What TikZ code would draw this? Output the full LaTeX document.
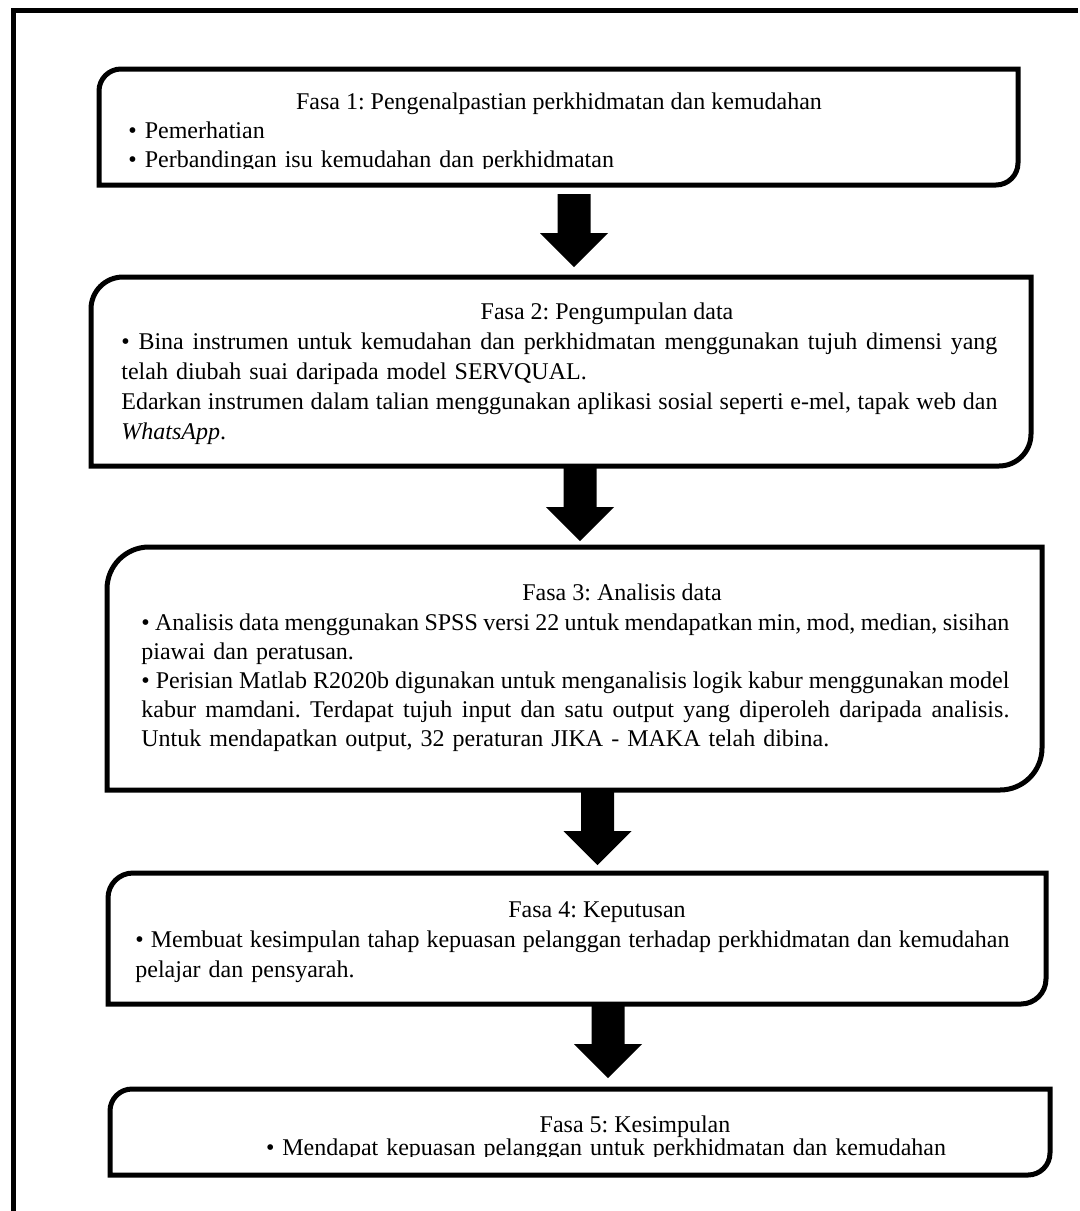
\documentclass[tikz,border=0pt]{standalone}
\usepackage{fontspec}
\setmainfont{Liberation Serif}
\usetikzlibrary{calc,fit}
\frenchspacing

\tikzset{
  boxline/.style={line width=2.5pt, line join=miter},
  framebox/.style={inner sep=0pt, outer sep=0pt, draw=none},
  heading/.style={anchor=base, inner sep=0pt, font=\fontsize{12pt}{15pt}\selectfont},
  body/.style={anchor=base west, inner sep=0pt, align=left, text width=450pt, font=\fontsize{12pt}{15pt}\selectfont},
  blockarrow/.style={fill=black, draw=none},
}

% justified line of given width
\newcommand\jline[2]{{\spaceskip=0.25em plus 0.6em minus 0.1em\makebox[#1][s]{#2}}}

% name, left, top, right, bottom, radius (px units)
\newcommand\diagbox[6]{%
  \node[framebox, fit={(#2,#3) (#4,#5)}] (#1) {};
  \draw[boxline] (#2,#3+#6) .. controls (#2,#3+0.4477*#6) and (#2+0.4477*#6,#3) .. (#2+#6,#3)
    -- (#4,#3) -- (#4,#5-#6) .. controls (#4,#5-0.4477*#6) and (#4-0.4477*#6,#5) .. (#4-#6,#5)
    -- (#2,#5) -- cycle;
}
% from, to, x-coordinate name, top gap, tip gap
\newcommand\blkarrow[5]{%
  \fill[blockarrow]
    ($(#1.south -| #3)+(-16.5,#4)$) -- ($(#1.south -| #3)+(16.5,#4)$)
    -- ($(#2.north -| #3)+(16.5,-#5-34)$) -- ($(#2.north -| #3)+(34,-#5-34)$)
    -- ($(#2.north -| #3)+(0,-#5)$)
    -- ($(#2.north -| #3)+(-34,-#5-34)$) -- ($(#2.north -| #3)+(-16.5,-#5-34)$) -- cycle;
}

\begin{document}
\begin{tikzpicture}[x=0.5pt,y=-0.5pt]
\useasboundingbox[fill=white] (0,0) rectangle (1080,1211);

% outer frame (top and left sides only)
\draw[line width=2.5pt] (13,1211) -- (13,10) -- (1078,10);

% boxes
\diagbox{b1}{99}{69}{1018}{185}{22}
\diagbox{b2}{91}{277}{1031}{466}{32}
\diagbox{b3}{107}{547}{1042}{790}{42}
\diagbox{b4}{108}{873}{1046}{1004}{25}
\diagbox{b5}{110}{1089}{1050}{1175}{22}

% arrow axes
\coordinate (ax1) at (574,0);
\coordinate (ax2) at (580,0);
\coordinate (ax3) at (597.5,0);
\coordinate (ax4) at (608,0);

\blkarrow{b1}{b2}{ax1}{9}{10}
\blkarrow{b2}{b3}{ax2}{0}{6}
\blkarrow{b3}{b4}{ax3}{0}{8}
\blkarrow{b4}{b5}{ax4}{0}{11}

% box 1 text
\node[heading] (h1) at (559,109) {Fasa 1: Pengenalpastian perkhidmatan dan kemudahan};
\begin{scope}
  \clip (101,71) rectangle (1016,168);
  \node[body, font=\fontsize{12pt}{14.5pt}\selectfont] (t1) at (128,138)
    {• Pemerhatian\\• Perbandingan isu kemudahan dan perkhidmatan};
\end{scope}

% box 2 text
\node[heading] (h2) at (607,319) {Fasa 2: Pengumpulan data};
\node[body] (t2) at (121,349)
  {\jline{438pt}{• Bina instrumen untuk kemudahan dan perkhidmatan menggunakan tujuh dimensi yang}\\
   telah diubah suai daripada model SERVQUAL.\\
   \jline{438pt}{Edarkan instrumen dalam talian menggunakan aplikasi sosial seperti e-mel, tapak web dan}\\
   \textit{WhatsApp}.};

% box 3 text
\node[heading] (h3) at (622,600) {Fasa 3: Analisis data};
\node[body, font=\fontsize{12pt}{14.6pt}\selectfont] (t3) at (141,630)
  {\jline{434pt}{• Analisis data menggunakan SPSS versi 22 untuk mendapatkan min, mod, median, sisihan}\\
   piawai dan peratusan.\\
   \jline{434pt}{• Perisian Matlab R2020b digunakan untuk menganalisis logik kabur menggunakan model}\\
   \jline{434pt}{kabur mamdani. Terdapat tujuh input dan satu output yang diperoleh daripada analisis.}\\
   Untuk mendapatkan output, 32 peraturan JIKA - MAKA telah dibina.};

% box 4 text
\node[heading] (h4) at (597,917) {Fasa 4: Keputusan};
\node[body] (t4) at (135,947)
  {\jline{437pt}{• Membuat kesimpulan tahap kepuasan pelanggan terhadap perkhidmatan dan kemudahan}\\
   pelajar dan pensyarah.};

% box 5 text
\node[heading] (h5) at (635,1132) {Fasa 5: Kesimpulan};
\begin{scope}
  \clip (112,1091) rectangle (1048,1156);
  \node[heading] (t5) at (606,1155) {\jline{340pt}{• Mendapat kepuasan pelanggan untuk perkhidmatan dan kemudahan}};
\end{scope}
\end{tikzpicture}
\end{document}
